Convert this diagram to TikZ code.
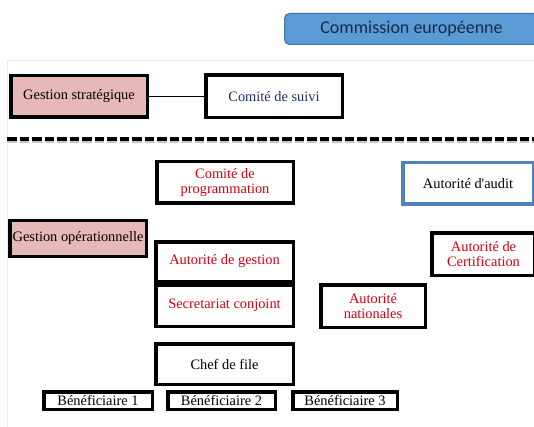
\documentclass[tikz,border=0pt]{standalone}
\usepackage{fontspec}
\setmainfont{Liberation Serif}
\newfontfamily\calib{Carlito}
\definecolor{pinkfill}{RGB}{230,184,183}
\definecolor{redtxt}{RGB}{208,0,16}
\definecolor{navytxt}{RGB}{31,50,95}
\definecolor{cefill}{RGB}{91,155,213}
\definecolor{ceborder}{RGB}{65,113,156}
\definecolor{auditblue}{RGB}{79,129,189}
\definecolor{pageline}{RGB}{236,236,228}
\tikzset{
  bx/.style={draw=black, line width=3.5pt, inner sep=0pt, align=center,
    font=\fontsize{14.4}{15.8}\selectfont},
  pinkbx/.style={bx, fill=pinkfill},
  redbx/.style={bx, text=redtxt},
}
\begin{document}
\begin{tikzpicture}[x=1pt,y=-1pt]
\useasboundingbox (0,0) rectangle (534,427);
\clip (0,0) rectangle (534,427);
% faint page edge
\draw[pageline, line width=1pt] (7,61) -- (534,61);
\draw[pageline, line width=1pt] (7,61) -- (7,427);
% Commission
\node[draw=ceborder, fill=cefill, rounded corners=5pt, line width=1pt,
  minimum width=254pt, minimum height=31pt, inner sep=0pt,
  font=\calib\fontsize{18}{20}\selectfont, text=navytxt!80!black] (ce) at (411.5,29) {Commission européenne};
% Strategic level
\node[pinkbx, minimum width=136.5pt, minimum height=41.5pt] (gs) at (79,96.5) {Gestion stratégique};
\node[bx, minimum width=136.5pt, minimum height=42.5pt, text=navytxt] (cs) at (274,96.5) {Comité de suivi};
\draw[line width=1pt] (gs.east) -- (cs.west);
% dashed separator
\coordinate (dl) at (7,139);
\coordinate (dr) at (534,139);
\draw[gray!45, line width=4pt, dash pattern=on 9.5pt off 3pt, transform canvas={yshift=-2pt}] (dl) -- (dr);
\draw[black, line width=4pt, dash pattern=on 9.5pt off 3pt] (dl) -- (dr);
% Operational level
\node[redbx, minimum width=136.5pt, minimum height=41.5pt] (cp) at (225,182.5) {Comité de\\programmation};
\node[bx, draw=auditblue, minimum width=130.5pt, minimum height=41.5pt] (aa) at (468,183.5) {Autorité d\textquotesingle audit};
\node[pinkbx, minimum width=136.5pt, minimum height=35.5pt] (go) at (78,238.5) {Gestion opérationnelle};
\node[redbx, minimum width=137.5pt, minimum height=39.5pt] (ag) at (224.5,261.5) {Autorité de gestion};
\node[redbx, minimum width=137.5pt, minimum height=41.5pt] (sc) at (224.5,305.5) {Secretariat conjoint};
\node[redbx, minimum width=103pt, minimum height=42.5pt] (ac) at (483.5,254) {Autorité de\\Certification};
\node[redbx, minimum width=104.5pt, minimum height=42.5pt] (an) at (373,306) {Autorité\\nationales};
\node[bx, minimum width=137.5pt, minimum height=40.5pt] (cf) at (224.5,364) {Chef de file};
\node[bx, minimum width=108.5pt, minimum height=17.5pt] (b1) at (98,400.5) {Bénéficiaire 1};
\node[bx, minimum width=107.5pt, minimum height=17.5pt] (b2) at (221.5,400.5) {Bénéficiaire 2};
\node[bx, minimum width=104.5pt, minimum height=17.5pt] (b3) at (345,400.5) {Bénéficiaire 3};
\end{tikzpicture}
\end{document}
